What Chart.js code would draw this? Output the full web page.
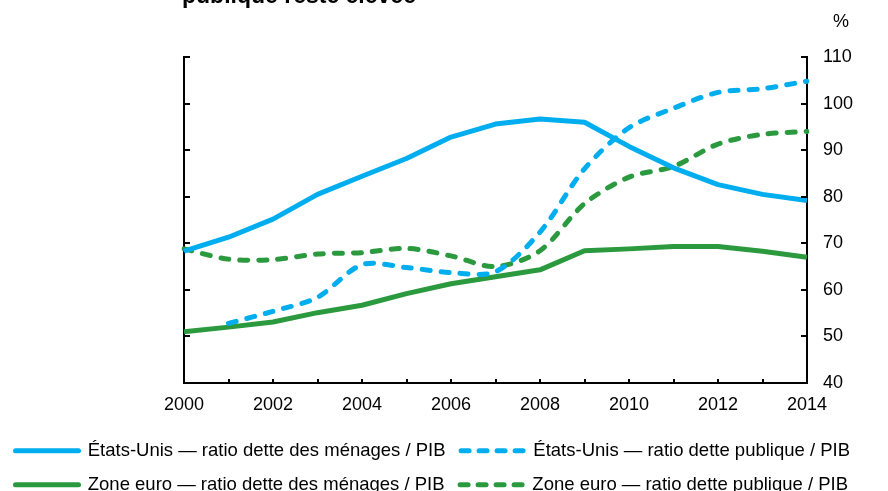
<!DOCTYPE html>
<html>
<head>
<meta charset="utf-8">
<script src="https://cdn.jsdelivr.net/npm/chart.js@4/dist/chart.umd.min.js"></script>
<style>
  html, body { margin: 0; padding: 0; background: #fff; overflow: hidden; }
  #wrap { position: relative; width: 888px; height: 504px; }
  #title {
    position: absolute; left: 182px; top: -16px; margin: 0;
    font: bold 23px "Liberation Sans", Arial, sans-serif; line-height: 23px; color: #000;
    white-space: nowrap;
  }
</style>
</head>
<body>
<div id="wrap">
  <canvas id="chart" width="888" height="504"></canvas>
  <div id="title">publique reste élevée</div>
</div>
<script>
(() => {
  const FONT = '"Liberation Sans", Arial, sans-serif';
  const BLUE = '#00aeef';
  const GREEN = '#2b9a3e';

  const years = ['2000', '2001', '2002', '2003', '2004', '2005', '2006', '2007',
    '2008', '2009', '2010', '2011', '2012', '2013', '2014'];
  const usHousehold = [68.3, 71.3, 75.2, 80.5, 84.4, 88.2, 92.8, 95.6, 96.7, 96.0, 90.8, 86.2, 82.6, 80.5, 79.2];
  const usPublic = [null, 52.8, 55.4, 58.4, 65.4, 64.8, 63.7, 63.9, 72.4, 86.0, 94.8, 99.0, 102.4, 103.2, 104.8];
  const euroHousehold = [51.0, 52.0, 53.1, 55.1, 56.7, 59.2, 61.3, 62.8, 64.3, 68.4, 68.8, 69.3, 69.3, 68.3, 67.0];
  const euroPublic = [68.8, 66.6, 66.5, 67.7, 68.0, 68.9, 67.3, 65.0, 68.4, 78.5, 84.2, 86.5, 91.3, 93.4, 94.0];
  const yTicks = { min: 40, max: 110, step: 10 };

  function line(label, data, color, dashed) {
    return {
      label,
      data,
      borderColor: color,
      backgroundColor: color,
      borderWidth: 5,
      borderDash: dashed ? [8, 11] : [],
      borderCapStyle: dashed ? 'round' : 'butt',
      borderJoinStyle: 'round',
      tension: dashed ? 0.3 : 0,
      pointRadius: 0,
      fill: false,
      spanGaps: false,
    };
  }

  // "%" above the right axis, and tick marks pointing into the plot
  const axisExtras = {
    id: 'axisExtras',
    afterDraw(chart) {
      const { ctx, chartArea } = chart;
      const { x, y } = chart.scales;
      ctx.save();
      ctx.strokeStyle = '#000';
      ctx.lineWidth = 2;
      ctx.beginPath();
      x.ticks.forEach((t, i) => {
        const px = Math.round(x.getPixelForTick(i));
        ctx.moveTo(px, chartArea.bottom);
        ctx.lineTo(px, chartArea.bottom - 4);
      });
      y.ticks.forEach((t) => {
        const py = Math.round(y.getPixelForValue(t.value));
        ctx.moveTo(chartArea.left, py);
        ctx.lineTo(chartArea.left + 6, py);
        ctx.moveTo(chartArea.right, py);
        ctx.lineTo(chartArea.right - 6, py);
      });
      ctx.stroke();

      ctx.font = `18px ${FONT}`;
      ctx.fillStyle = '#000';
      ctx.textAlign = 'left';
      ctx.textBaseline = 'middle';
      ctx.fillText('%', y.left + 26, chartArea.top - 35);
      ctx.restore();
    },
  };

  const axisLine = { color: '#000', width: 2 };
  const noGrid = { drawOnChartArea: false, drawTicks: true, color: 'rgba(0,0,0,0)' };
  const tickFont = { family: FONT, size: 18 };

  new Chart(document.getElementById('chart'), {
    type: 'line',
    data: {
      labels: years,
      datasets: [
        line('États-Unis — ratio dette des ménages / PIB', usHousehold, BLUE, false),
        line('États-Unis — ratio dette publique / PIB', usPublic, BLUE, true),
        line('Zone euro — ratio dette des ménages / PIB', euroHousehold, GREEN, false),
        line('Zone euro — ratio dette publique / PIB', euroPublic, GREEN, true),
      ],
    },
    options: {
      responsive: false,
      animation: false,
      layout: { padding: { top: 57, left: 0, right: 0, bottom: 0 } },
      plugins: {
        title: { display: false },
        tooltip: { enabled: false },
        legend: {
          position: 'bottom',
          align: 'start',
          labels: {
            usePointStyle: true,
            pointStyle: 'line',
            pointStyleWidth: 63,
            padding: 15.5,
            color: '#000',
            font: { family: FONT, size: 18.5 },
            generateLabels(chart) {
              return Chart.defaults.plugins.legend.labels.generateLabels(chart).map((item) => {
                const ds = chart.data.datasets[item.datasetIndex];
                return {
                  ...item,
                  strokeStyle: ds.borderColor,
                  lineWidth: 5,
                  lineDash: ds.borderDash.length ? [8, 10] : [],
                  lineCap: 'round',
                };
              });
            },
          },
        },
      },
      scales: {
        x: {
          type: 'category',
          offset: false,
          border: axisLine,
          grid: { ...noGrid, tickLength: -4 },
          ticks: {
            autoSkip: false,
            maxRotation: 0,
            padding: 15,
            color: '#000',
            font: tickFont,
            callback: (value, index) => (index % 2 === 0 ? years[index] : ''),
          },
          afterFit: (scale) => { scale.height = 43; },
        },
        yL: {
          position: 'left',
          min: yTicks.min,
          max: yTicks.max,
          border: axisLine,
          grid: { ...noGrid, tickLength: -6 },
          ticks: { display: false, stepSize: yTicks.step },
          afterFit: (scale) => { scale.width = 184; },
        },
        y: {
          position: 'right',
          min: yTicks.min,
          max: yTicks.max,
          border: axisLine,
          grid: { ...noGrid, tickLength: -6 },
          ticks: { stepSize: yTicks.step, padding: 22, color: '#000', font: tickFont },
          afterFit: (scale) => { scale.width = 81; },
        },
      },
    },
    plugins: [axisExtras],
  });
})();
</script>
</body>
</html>
